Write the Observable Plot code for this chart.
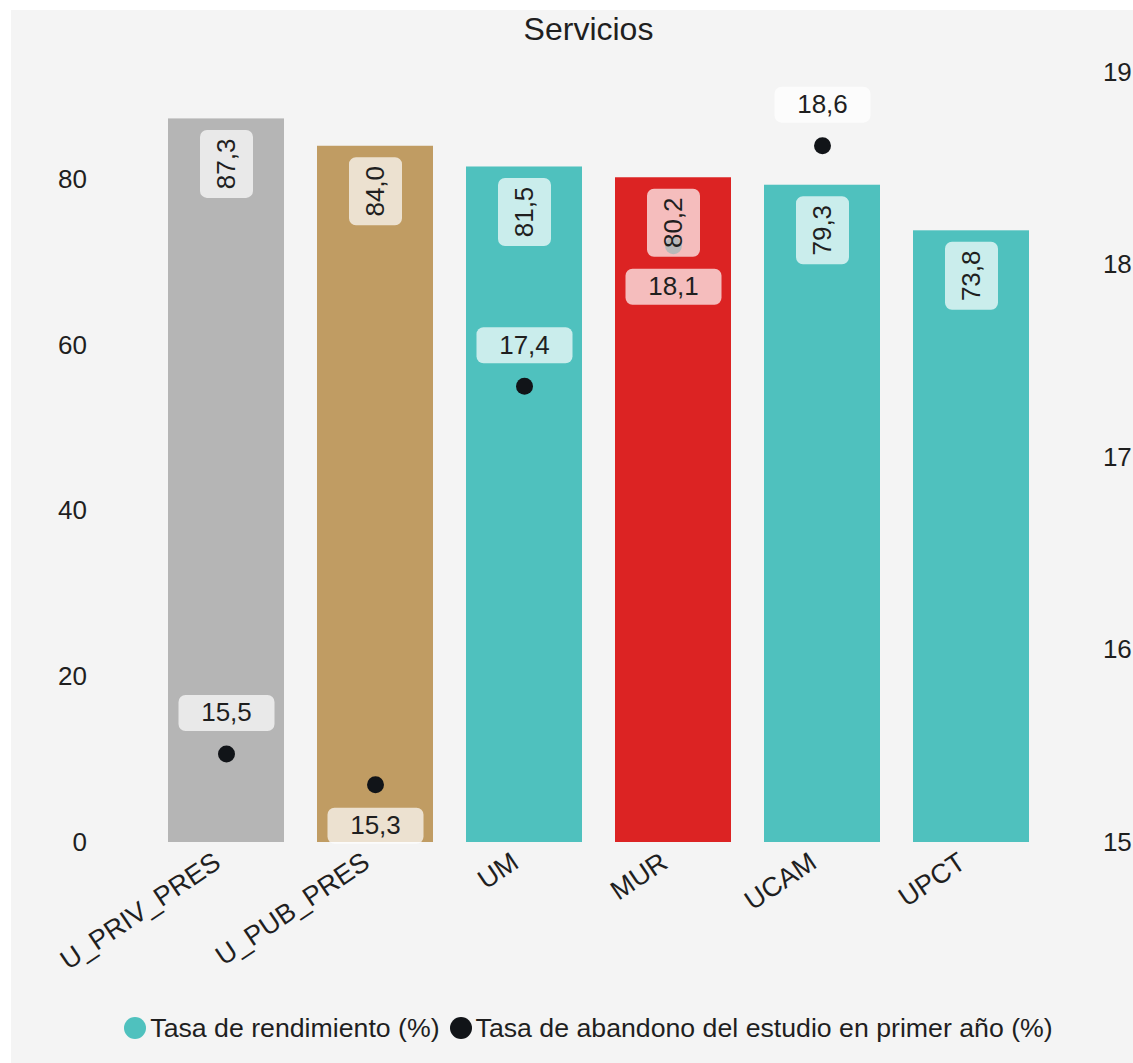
<!DOCTYPE html>
<html><head><meta charset="utf-8">
<script src="https://cdn.jsdelivr.net/npm/d3@7"></script>
<script src="https://cdn.jsdelivr.net/npm/@observablehq/plot@0.6"></script>
<style>
html,body{margin:0;padding:0;background:#fff;overflow:hidden;}
#wrap{position:absolute;left:11px;top:10px;width:1155px;height:1053px;background:#f4f4f4;font-family:"Liberation Sans",Arial,sans-serif;color:#1f1f1f;}
#title{height:38px;line-height:38px;text-align:center;font-size:32px;}
#legend{display:flex;justify-content:center;align-items:center;height:80px;font-size:26.7px;}
#legend .item{display:flex;align-items:center;margin:0 5px;}
#legend .sw{display:inline-block;width:22px;height:22px;border-radius:50%;margin-right:4px;}
</style></head>
<body><div id="wrap"><div id="title">Servicios</div><div id="chart"></div><div id="legend"></div></div>
<script>
// ---- data ----
const universities = ["U_PRIV_PRES", "U_PUB_PRES", "UM", "MUR", "UCAM", "UPCT"];
const rendimiento = [87.3, 84.0, 81.5, 80.2, 79.3, 73.8];
const abandono = [15.46, 15.30, 17.37, 18.10, 18.62, null];
const barColors = ["#b5b5b5", "#c09c63", "#4fc1be", "#dc2323", "#4fc1be", "#4fc1be"];
const leftTicks = [0, 20, 40, 60, 80];
const rightTicks = [15, 16, 17, 18, 19];
const seriesNames = ["Tasa de rendimiento (%)", "Tasa de abandono del estudio en primer año (%)"];
const seriesColors = ["#4fc1be", "#111418"];

// ---- config ----
const leftMax = 92.9;
const rightDomain = [15, 19];
const labelsBelow = new Set(["U_PUB_PRES", "MUR"]);
const toLeft = v => (v - rightDomain[0]) / (rightDomain[1] - rightDomain[0]) * leftMax;
const fromLeft = v => rightDomain[0] + v / leftMax * (rightDomain[1] - rightDomain[0]);
const fmt = v => d3.format(".1f")(v).replace(".", ",");

function roundRect(w, h, r) {
  return {
    draw(ctx) {
      const x0 = -w / 2, y0 = -h / 2, x1 = w / 2, y1 = h / 2;
      ctx.moveTo(x0 + r, y0);
      ctx.lineTo(x1 - r, y0); ctx.arcTo(x1, y0, x1, y0 + r, r);
      ctx.lineTo(x1, y1 - r); ctx.arcTo(x1, y1, x1 - r, y1, r);
      ctx.lineTo(x0 + r, y1); ctx.arcTo(x0, y1, x0, y1 - r, r);
      ctx.lineTo(x0, y0 + r); ctx.arcTo(x0, y0, x0 + r, y0, r);
      ctx.closePath();
    }
  };
}

const rows = universities.map((u, i) => ({
  u, rend: rendimiento[i], ab: abandono[i],
  abY: abandono[i] == null ? null : toLeft(abandono[i]),
  color: barColors[i]
}));
const withDot = rows.filter(d => d.ab != null);
const above = withDot.filter(d => !labelsBelow.has(d.u));
const below = withDot.filter(d => labelsBelow.has(d.u));

const font = 26;
const chart = Plot.plot({
  width: 1155,
  height: 940,
  marginLeft: 139.4,
  marginRight: 119.6,
  marginTop: 24,
  marginBottom: 146,
  style: {fontFamily: "'Liberation Sans', Arial, sans-serif", background: "transparent", color: "#1f1f1f", overflow: "visible"},
  x: {type: "band", domain: universities, paddingInner: 0.223, paddingOuter: 0.1115, align: 0.5, axis: null},
  y: {domain: [0, leftMax], axis: null},
  color: {type: "identity"},
  marks: [
    Plot.barY(rows, {x: "u", y: "rend", fill: "color"}),
    Plot.axisY({anchor: "left", ticks: leftTicks, tickSize: 0, tickPadding: 64, fontSize: font, label: null, tickFormat: d => String(d)}),
    Plot.axisY({anchor: "right", ticks: rightTicks.map(toLeft), tickSize: 0, tickPadding: 56, fontSize: font, label: null,
      tickFormat: v => String(Math.round(fromLeft(v)))}),
    Plot.text(rows, {x: "u", frameAnchor: "bottom", dx: -4, dy: 24, rotate: -34, textAnchor: "end", text: "u", fontSize: 27, fill: "#1f1f1f"}),
    Plot.dot(withDot, {x: "u", y: "abY", r: 8.5, fill: seriesColors[1], stroke: "none"}),
    Plot.dot(rows, {x: "u", y: "rend", dy: 45, r: 5, symbol: roundRect(53, 68, 7), fill: "white", fillOpacity: 0.7, stroke: "none"}),
    Plot.dot(above, {x: "u", y: "abY", dy: -41, r: 5, symbol: roundRect(96, 36, 7), fill: "white", fillOpacity: 0.7, stroke: "none"}),
    Plot.dot(below, {x: "u", y: "abY", dy: 41, r: 5, symbol: roundRect(96, 36, 7), fill: "white", fillOpacity: 0.7, stroke: "none"}),
    Plot.text(rows, {x: "u", y: "rend", dy: 45, rotate: -90, text: d => fmt(d.rend), fontSize: font, fill: "#1f1f1f"}),
    Plot.text(above, {x: "u", y: "abY", dy: -41, text: d => fmt(d.ab), fontSize: font, fill: "#1f1f1f"}),
    Plot.text(below, {x: "u", y: "abY", dy: 41, text: d => fmt(d.ab), fontSize: font, fill: "#1f1f1f"})
  ]
});
document.getElementById("chart").appendChild(chart);

const legend = document.getElementById("legend");
seriesNames.forEach((name, i) => {
  const item = document.createElement("span");
  item.className = "item";
  const sw = document.createElement("span");
  sw.className = "sw";
  sw.style.background = seriesColors[i];
  item.appendChild(sw);
  item.appendChild(document.createTextNode(name));
  legend.appendChild(item);
});
</script>
</body></html>
